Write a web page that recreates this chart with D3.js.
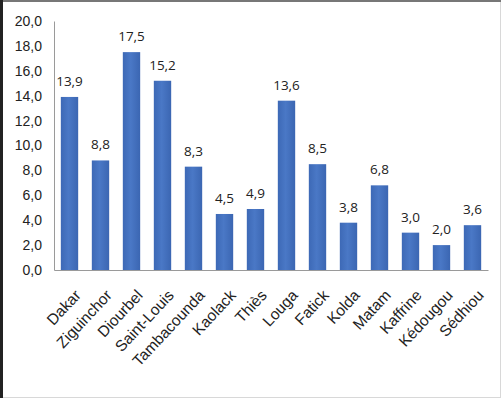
<!DOCTYPE html>
<html>
<head>
<meta charset="utf-8">
<script src="https://cdn.jsdelivr.net/npm/d3@7/dist/d3.min.js"></script>
<style>
  html, body { margin: 0; padding: 0; background: #fff; }
  svg { display: block; font-family: "Open Sans", Lato, sans-serif; }
</style>
</head>
<body>
<svg id="chart" width="501" height="398"></svg>
<script>
// regions and their values
const regions = ["Dakar", "Ziguinchor", "Diourbel", "Saint-Louis", "Tambacounda", "Kaolack",
  "Thiès", "Louga", "Fatick", "Kolda", "Matam", "Kaffrine", "Kédougou", "Sédhiou"];
const values = [13.9, 8.8, 17.5, 15.2, 8.3, 4.5, 4.9, 13.6, 8.5, 3.8, 6.8, 3.0, 2.0, 3.6];
const yTicks = [0, 2, 4, 6, 8, 10, 12, 14, 16, 18, 20];

const svg = d3.select("#chart");
const W = 501, H = 398;
const margin = { top: 21, right: 13, bottom: 128, left: 54 };

const fmt = v => d3.format(".1f")(v).replace(".", ",");

// outer frame, like the pasted chart picture
svg.append("rect").attr("x", 0.5).attr("y", 0.5).attr("width", W - 1).attr("height", H - 1)
  .attr("fill", "#fff").attr("stroke", "#d8d8d8");
svg.append("line").attr("x1", 0).attr("x2", W).attr("y1", 1).attr("y2", 1)
  .attr("stroke", "#777").attr("stroke-width", 2);
svg.append("line").attr("x1", 1.5).attr("x2", 1.5).attr("y1", 0).attr("y2", H)
  .attr("stroke", "#222").attr("stroke-width", 3);

const x = d3.scaleBand().domain(regions)
  .range([margin.left, W - margin.right]).paddingInner(0.44).paddingOuter(0.22);
const y = d3.scaleLinear().domain([0, 20]).range([H - margin.bottom, margin.top]);

// gradient for bars
const grad = svg.append("defs").append("linearGradient").attr("id", "barGrad")
  .attr("x1", "0").attr("x2", "1").attr("y1", "0").attr("y2", "0");
grad.append("stop").attr("offset", "0%").attr("stop-color", "#3d69b6");
grad.append("stop").attr("offset", "45%").attr("stop-color", "#4a78c6");
grad.append("stop").attr("offset", "100%").attr("stop-color", "#3b66b2");

// y axis
const yAxis = svg.append("g").attr("transform", `translate(${margin.left},0)`)
  .call(d3.axisLeft(y).tickValues(yTicks).tickFormat(fmt).tickSize(0).tickPadding(12));
yAxis.select(".domain").attr("stroke", "#9a9a9a");
yAxis.selectAll("text").attr("font-size", 14).attr("fill", "#222");

// bars
const data = regions.map((r, i) => ({ region: r, value: values[i] }));
svg.append("g").selectAll("rect").data(data).join("rect")
  .attr("x", d => x(d.region))
  .attr("width", x.bandwidth())
  .attr("y", d => y(d.value))
  .attr("height", d => y(0) - y(d.value))
  .attr("fill", "url(#barGrad)");

// value labels
svg.append("g").selectAll("text").data(data).join("text")
  .attr("x", d => x(d.region) + x.bandwidth() / 2)
  .attr("y", d => y(d.value) - 11)
  .attr("text-anchor", "middle")
  .attr("font-size", 13.5).attr("fill", "#222")
  .text(d => fmt(d.value));

// x axis
const xAxis = svg.append("g").attr("transform", `translate(0,${y(0)})`)
  .call(d3.axisBottom(x).tickSize(0).tickSizeOuter(0));
xAxis.select(".domain").attr("stroke", "#9a9a9a");
xAxis.selectAll("text")
  .attr("font-size", 15.5).attr("fill", "#222")
  .attr("text-anchor", "end")
  .attr("dy", 0)
  .attr("transform", "translate(10,24) rotate(-47)");
</script>
</body>
</html>
